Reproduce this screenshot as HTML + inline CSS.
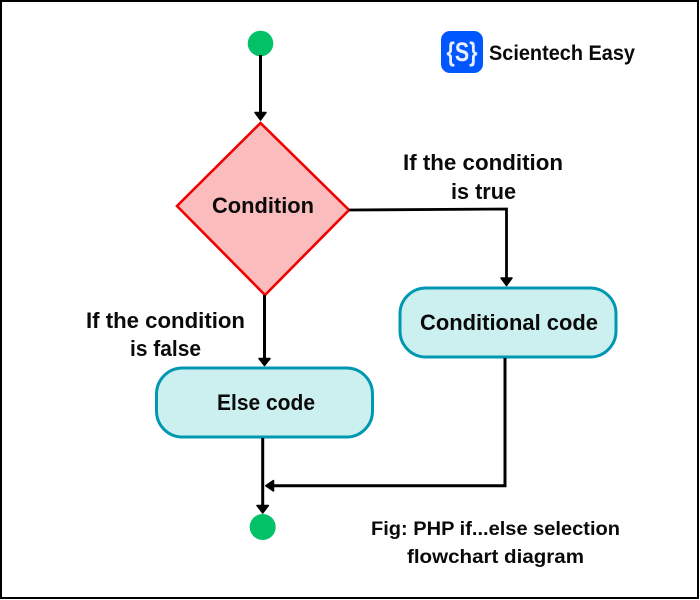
<!DOCTYPE html>
<html><head><meta charset="utf-8"><style>
html,body{margin:0;padding:0;background:#fff}
svg{display:block}
text{font-family:"Liberation Sans",sans-serif;font-weight:700;fill:#0a0a0a}
</style></head><body>
<svg width="700" height="600" viewBox="0 0 700 600" xmlns="http://www.w3.org/2000/svg">
<rect x="1" y="1" width="697" height="597" fill="#fff" stroke="#000" stroke-width="2"/>
<!-- logo -->
<rect x="441" y="31" width="42" height="42" rx="9" fill="#0057ff"/>
<text x="462" y="61" text-anchor="middle" font-size="27" style="fill:#e8f0ff" textLength="31" lengthAdjust="spacingAndGlyphs">{S}</text>
<text x="489" y="60" font-size="21.500" textLength="146" lengthAdjust="spacingAndGlyphs">Scientech Easy</text>
<!-- start -->
<circle cx="260.500" cy="43.500" r="12.800" fill="#03c167"/>
<line x1="260.500" y1="55" x2="260.500" y2="113" stroke="#000" stroke-width="3"/>
<polygon points="255,112.500 266,112.500 260.500,120" fill="#000" stroke="#000" stroke-width="1.500" stroke-linejoin="round"/>
<!-- diamond -->
<polygon points="260.500,123 349,210 265,295 177,206" fill="#fabcbc" stroke="#f00000" stroke-width="2.600"/>
<text x="212" y="213" font-size="22" textLength="102" lengthAdjust="spacingAndGlyphs">Condition</text>
<!-- true branch -->
<polyline points="349,210 506.500,209 506.500,279" fill="none" stroke="#000" stroke-width="2.800"/>
<polygon points="501,278 512,278 506.500,285.500" fill="#000" stroke="#000" stroke-width="1.500" stroke-linejoin="round"/>
<text x="403" y="170" font-size="22" textLength="160" lengthAdjust="spacingAndGlyphs">If the condition</text>
<text x="451" y="199" font-size="22" textLength="65" lengthAdjust="spacingAndGlyphs">is true</text>
<!-- conditional code -->
<rect x="400" y="288" width="216" height="69" rx="26" fill="#cceff0" stroke="#0097b2" stroke-width="3"/>
<text x="420" y="330" font-size="22" textLength="178" lengthAdjust="spacingAndGlyphs">Conditional code</text>
<!-- false branch -->
<line x1="264.500" y1="295" x2="264.500" y2="359" stroke="#000" stroke-width="3"/>
<polygon points="259,358.500 270,358.500 264.500,365.500" fill="#000" stroke="#000" stroke-width="1.500" stroke-linejoin="round"/>
<text x="86" y="328" font-size="22" textLength="159" lengthAdjust="spacingAndGlyphs">If the condition</text>
<text x="130" y="356" font-size="22" textLength="71" lengthAdjust="spacingAndGlyphs">is false</text>
<!-- else code -->
<rect x="156.500" y="368" width="216" height="69" rx="26" fill="#cceff0" stroke="#0097b2" stroke-width="3"/>
<text x="217" y="410" font-size="22" textLength="98" lengthAdjust="spacingAndGlyphs">Else code</text>
<!-- merge -->
<polyline points="505,358 505,485.700 273,485.700" fill="none" stroke="#000" stroke-width="3"/>
<polygon points="273.500,480.500 273.500,491 265.700,485.700" fill="#000" stroke="#000" stroke-width="1.500" stroke-linejoin="round"/>
<line x1="262.700" y1="438" x2="262.700" y2="506" stroke="#000" stroke-width="3"/>
<polygon points="257,505.500 268.400,505.500 262.700,513" fill="#000" stroke="#000" stroke-width="1.500" stroke-linejoin="round"/>
<circle cx="262.700" cy="527" r="13" fill="#03c167"/>
<!-- caption -->
<text x="371" y="535" font-size="19.500" textLength="249" lengthAdjust="spacingAndGlyphs">Fig: PHP if...else selection</text>
<text x="407" y="563" font-size="19.500" textLength="177" lengthAdjust="spacingAndGlyphs">flowchart diagram</text>
</svg>
</body></html>
